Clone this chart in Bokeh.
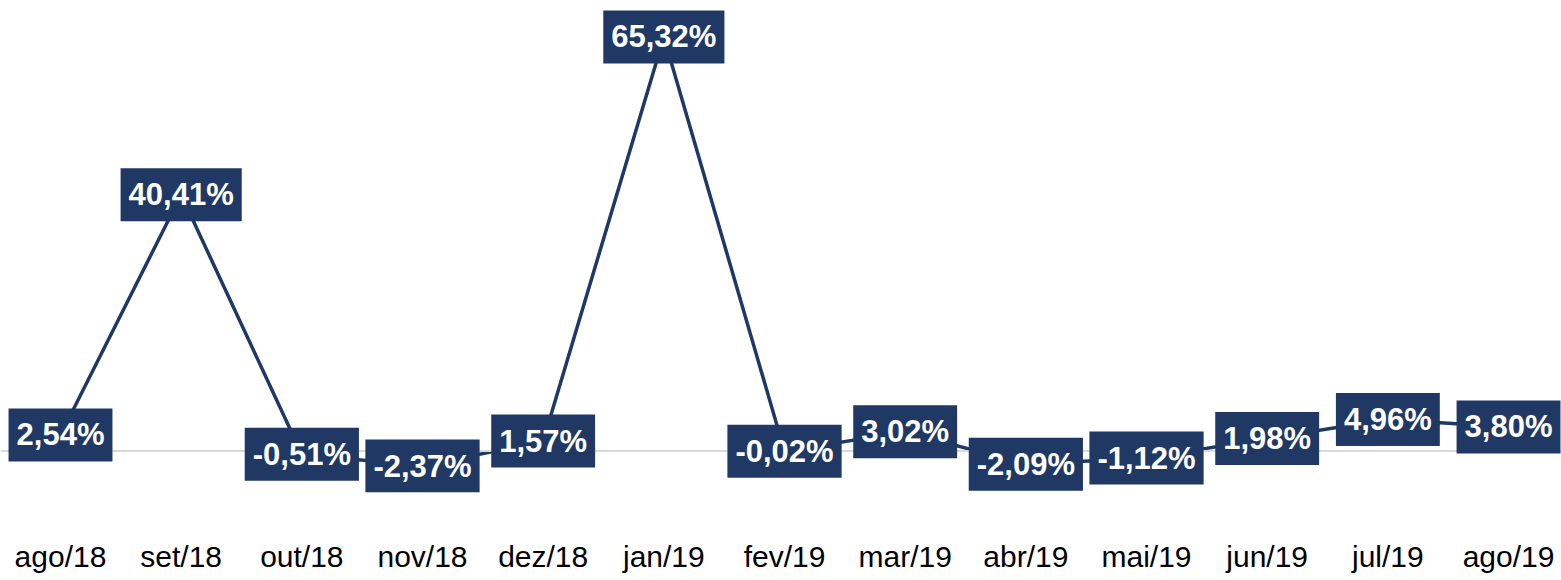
from bokeh.plotting import figure
from bokeh.models import Label, Span, FixedTicker, Range1d
from bokeh.embed import file_html
from bokeh.resources import INLINE

months = ["ago/18", "set/18", "out/18", "nov/18", "dez/18", "jan/19", "fev/19",
          "mar/19", "abr/19", "mai/19", "jun/19", "jul/19", "ago/19"]
values = [2.54, 40.41, -0.51, -2.37, 1.57, 65.32, -0.02, 3.02, -2.09, -1.12, 1.98, 4.96, 3.80]
labels = [f"{v:.2f}%".replace(".", ",") for v in values]
xs = list(range(len(months)))

NAVY = "#1F3864"
FONT = "Liberation Sans"

FW, FH = 1561, 492
p = figure(frame_width=FW, frame_height=FH, output_backend="svg", toolbar_location=None,
           x_range=Range1d(-0.4972, 12.439), y_range=Range1d(71.06 - FH / 6.34, 71.06),
           min_border_left=0, min_border_right=0, min_border_top=0, min_border_bottom=0)
p.outline_line_color = None
p.grid.visible = False
p.yaxis.visible = False
p.background_fill_color = "white"
p.border_fill_color = "white"

ax = p.xaxis[0]
ax.ticker = FixedTicker(ticks=xs)
ax.major_label_overrides = {i: m for i, m in zip(xs, months)}
ax.axis_line_color = None
ax.major_tick_line_color = None
ax.minor_tick_line_color = None
ax.major_tick_out = 0
ax.major_tick_in = 0
ax.major_label_standoff = 47
ax.major_label_text_font = FONT
ax.major_label_text_font_size = "30px"
ax.major_label_text_color = "#000000"

p.add_layout(Span(location=0, dimension="width", line_color="#D9D9D9", line_width=2))

p.line(xs, values, line_color=NAVY, line_width=3.5)

for x, v, t in zip(xs, values, labels):
    p.add_layout(Label(x=x, y=v, text=t, text_align="center", text_baseline="middle",
                       text_font=FONT, text_font_size="31px", text_font_style="bold",
                       text_color="white", background_fill_color=NAVY,
                       padding=dict(left=8, right=8, top=9, bottom=9)))

open("out.html", "w").write(file_html(p, INLINE))
